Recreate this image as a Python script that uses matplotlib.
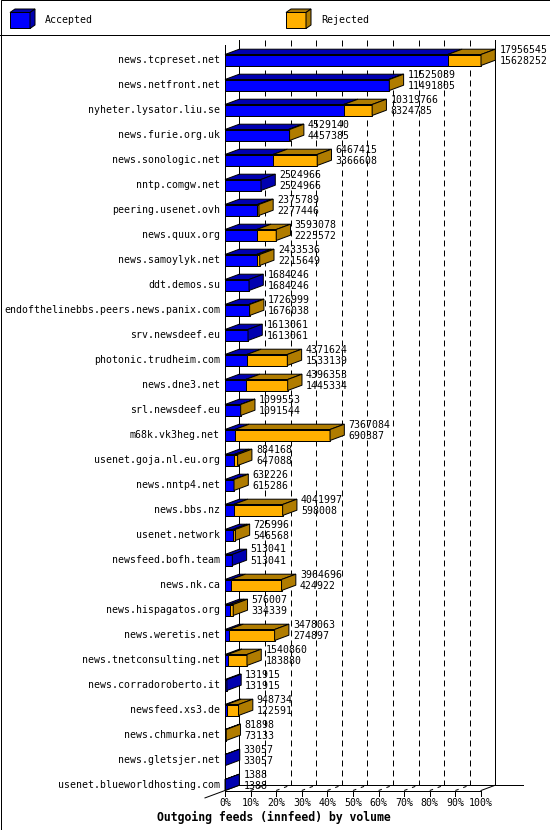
import matplotlib
matplotlib.use('Agg')
import matplotlib.pyplot as plt
from matplotlib.patches import Polygon, Rectangle
from matplotlib.lines import Line2D
import numpy as np

plt.rcParams['lines.scale_dashes'] = False

# ---------------- data ----------------
hosts = [
    'news.tcpreset.net', 'news.netfront.net', 'nyheter.lysator.liu.se',
    'news.furie.org.uk', 'news.sonologic.net', 'nntp.comgw.net',
    'peering.usenet.ovh', 'news.quux.org', 'news.samoylyk.net',
    'ddt.demos.su', 'endofthelinebbs.peers.news.panix.com', 'srv.newsdeef.eu',
    'photonic.trudheim.com', 'news.dne3.net', 'srl.newsdeef.eu',
    'm68k.vk3heg.net', 'usenet.goja.nl.eu.org', 'news.nntp4.net',
    'news.bbs.nz', 'usenet.network', 'newsfeed.bofh.team',
    'news.nk.ca', 'news.hispagatos.org', 'news.weretis.net',
    'news.tnetconsulting.net', 'news.corradoroberto.it', 'newsfeed.xs3.de',
    'news.chmurka.net', 'news.gletsjer.net', 'usenet.blueworldhosting.com',
]
offered = [
    17956545, 11525089, 10319766, 4529140, 6467415, 2524966,
    2375789, 3593078, 2433536, 1684246, 1726999, 1613061,
    4371624, 4396353, 1099553, 7367084, 884168, 632226,
    4041997, 725996, 513041, 3964696, 576007, 3478063,
    1540860, 131915, 948734, 81898, 33057, 1388,
]
accepted = [
    15628252, 11491805, 8324785, 4457385, 3366608, 2524966,
    2277446, 2225572, 2215649, 1684246, 1676038, 1613061,
    1533139, 1445334, 1091544, 690387, 647088, 615286,
    598008, 546568, 513041, 424922, 334339, 274897,
    183880, 131915, 122591, 73133, 33057, 1388,
]
tick_pcts = [0, 10, 20, 30, 40, 50, 60, 70, 80, 90, 100]
tick_labels = ['0%', '10%', '20%', '30%', '40%', '50%', '60%', '70%', '80%', '90%', '100%']
legend_labels = ['Accepted', 'Rejected']
title = 'Outgoing feeds (innfeed) by volume'

# ---------------- style ----------------
BLUE, BLUE_D = '#0000FF', '#0000B0'
ORANGE, ORANGE_D = '#FFB000', '#B07C00'
LW = 0.72
FONT = 'DejaVu Sans Mono'
FS = 7.1

W, H = 550, 830
fig = plt.figure(figsize=(W / 100, H / 100), dpi=100)
fig.patch.set_facecolor('white')
ax = fig.add_axes([0, 0, 1, 1])
ax.axis('off')

# layout constants (pixels)
X0, PXPCT = 225.0, 2.56       # x of 0 %, pixels per percent
Y0, ROWPX = 60.0, 25.0        # y of first row centre, pixels per row
ax.set_xlim(-X0 / PXPCT, (W - X0) / PXPCT)
ax.set_ylim((H - Y0) / ROWPX, -Y0 / ROWPX)

DX = 14.3 / PXPCT             # depth offset in data units
DY = 5.3 / ROWPX
HH = 5.5 / ROWPX              # half bar height

n = len(hosts)
maxv = max(offered)
acc_pct = np.array(accepted) / maxv * 100
off_pct = np.array(offered) / maxv * 100
rows = np.arange(n)

ff = (n - 1) + HH             # front floor
fb = ff - DY                  # back floor
top_back = (40 - Y0) / ROWPX
top_front = (45 - Y0) / ROWPX
tick_bot = ff + 6 / ROWPX
dash = (0, (4.3, 2.9))

# back wall gridlines
for p in tick_pcts:
    ls = '-' if p in (0, 100) else dash
    ax.add_line(Line2D([p + DX, p + DX], [top_back, fb], color='k', lw=LW,
                       linestyle=ls, zorder=1))
# floor
ax.add_line(Line2D([0, 0], [top_front, tick_bot], color='k', lw=LW, zorder=5))
ax.add_line(Line2D([0, 100], [ff, ff], color='k', lw=LW, zorder=1))
ax.add_line(Line2D([100, 100 + DX], [ff, fb], color='k', lw=LW, zorder=1))
ax.add_line(Line2D([DX, 100 + DX + 27.7 / PXPCT], [fb, fb], color='k', lw=LW, zorder=1))
ax.add_line(Line2D([DX, -1.4 * DX], [fb, fb + 2.4 * DY], color='k', lw=LW, zorder=1))
for p, lab in zip(tick_pcts, tick_labels):
    ax.add_line(Line2D([p, p], [ff, tick_bot], color='k', lw=LW, zorder=1))
    if 0 < p < 100:
        ax.add_line(Line2D([p, p + DX], [ff, fb], color='k', lw=LW,
                           linestyle=(0, (2.5, 3.5)), zorder=1))
    ax.text(p, (803 - Y0) / ROWPX, lab, ha='center', va='center',
            family=FONT, fontsize=FS)

# bars: front faces through barh
ax.barh(rows, acc_pct, height=2 * HH, left=0, color=BLUE, edgecolor='k',
        linewidth=LW, zorder=3)
ax.barh(rows, off_pct - acc_pct, height=2 * HH, left=acc_pct, color=ORANGE,
        edgecolor='k', linewidth=LW, zorder=3)

# 3D faces
for i in range(n):
    fa, ft = acc_pct[i], off_pct[i]
    yt, yb = i - HH, i + HH
    ax.add_patch(Polygon([(0, yt), (fa, yt), (fa + DX, yt - DY), (DX, yt - DY)],
                         closed=True, fc=BLUE_D, ec='k', lw=LW, zorder=3))
    if ft > fa:
        ax.add_patch(Polygon([(fa, yt), (ft, yt), (ft + DX, yt - DY), (fa + DX, yt - DY)],
                             closed=True, fc=ORANGE_D, ec='k', lw=LW, zorder=3))
    side = ORANGE_D if ft > fa else BLUE_D
    ax.add_patch(Polygon([(ft, yt), (ft, yb), (ft + DX, yb - DY), (ft + DX, yt - DY)],
                         closed=True, fc=side, ec='k', lw=LW, zorder=3))
    # labels
    ax.text(-5 / PXPCT, i, hosts[i], ha='right', va='center', family=FONT,
            fontsize=FS, zorder=6)
    xv = ft + DX + 4 / PXPCT
    ax.text(xv, i - 10.5 / ROWPX, str(offered[i]), ha='left', va='center',
            family=FONT, fontsize=FS, zorder=6)
    ax.text(xv, i + 0.5 / ROWPX, str(accepted[i]), ha='left', va='center',
            family=FONT, fontsize=FS, zorder=6)

# title
fig.text(274 / W, 1 - 817 / H, title, ha='center', va='center', family=FONT,
         fontsize=8.3, fontweight='bold')

# legend area
lax = fig.add_axes([0, 1 - 36 / H, 1, 36 / H])
lax.axis('off')
lax.set_xlim(0, W)
lax.set_ylim(36, 0)
for (x, lab, c, cd) in [(10, legend_labels[0], BLUE, BLUE_D),
                        (286, legend_labels[1], ORANGE, ORANGE_D)]:
    fw, t, b, dx, dy = 20, 12.5, 28.5, 5, 3.5
    lax.add_patch(Polygon([(x, t), (x + fw, t), (x + fw, b), (x, b)], closed=True,
                          fc=c, ec='k', lw=LW))
    lax.add_patch(Polygon([(x, t), (x + fw, t), (x + fw + dx, t - dy), (x + dx, t - dy)],
                          closed=True, fc=cd, ec='k', lw=LW))
    lax.add_patch(Polygon([(x + fw, t), (x + fw, b), (x + fw + dx, b - dy), (x + fw + dx, t - dy)],
                          closed=True, fc=cd, ec='k', lw=LW))
    lax.text(x + fw + dx + 10, 20, lab, ha='left', va='center', family=FONT, fontsize=FS)

fig.add_artist(Line2D([0, 1], [1 - 35.5 / H, 1 - 35.5 / H], transform=fig.transFigure,
                      color='k', lw=LW))
fig.add_artist(Rectangle((0.5 / W, 0.5 / H), 549 / W, 829 / H, transform=fig.transFigure,
                         fill=False, ec='k', lw=LW))

fig.savefig('out.png', dpi=100)
